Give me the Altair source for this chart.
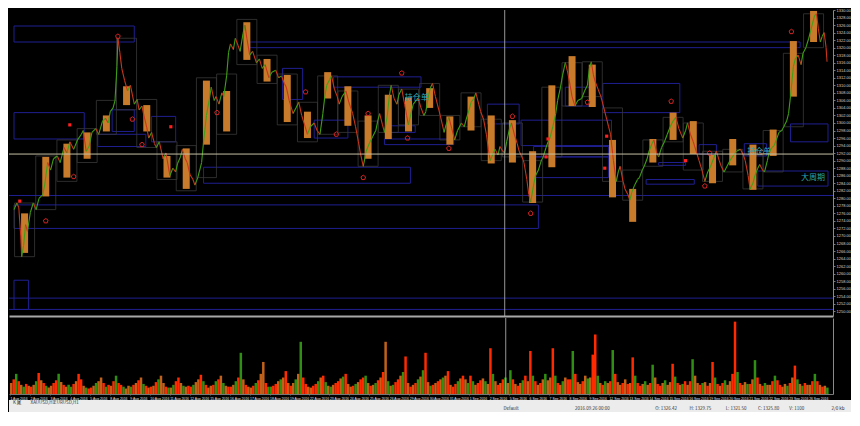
import altair as alt
import pandas as pd
import numpy as np

# ---------------- price path (bar index, price) ----------------
line_bar = [0,3,5,7,8,10,12,14,17,20,
            23,26,30,32,35,38,41,45,48,52,
            55,58,62,66,70,72,75,78,81,85,
            88,92,95,98,100,103,105,107,108,110,
            112,115,118,121,125,128,130,133,135,138,
            140,143,146,148,151,155,158,162,165,168,
            170,173,175,178,180,183,186,188,191,195,
            197,200,203,205,208,210,213,216,218,221,
            223,225,228,230,233,235,238,240,242,245,
            248,252,255,258,261,265,268,272,275,278,
            281,283,286,290,293,296,299,302,305,308,
            312,315,318,321,323,325,328,330,333,336,
            338,341,345,348,352,355,358,360,363,366,
            370,373,376,378,380,383,385,388,390,392,
            395,398,400,403,406,408,410,413,415,418,
            420,423,426,428,431,433,435,438,440,443,
            447,449,452,455,458,461,465,468,470,473,
            475,478,480,483,485,488,491,493,495,498,
            500,503,505,508,510,512,515,517,520,523,
            525,528,530,533,535,537,540,542,545,548,
            550,553,555,557,560,563,565,568,570,573,
            575,578,580,583,586,590,593,596,598,600,
            602,604,607,610,613,616,618,620,623,626,
            628,630,633,635,638,640,642,645,648,650,
            653,655,658,660,663,665,668,670,673,676,
            679,682,685,688,691,695,698,700,703,706,
            709,712,715,718,721,724,727,730,733,735,
            738,740,744,748,751,755,758,760,763,765,
            768,770,773,775,778,780,783,785,788,790,
            793,795,798,800,803,805,807,810,812,815,
            818,820,823,826,828,830,832,834,836,838,
            840,842,844,845]
line_price = [1277.00,1278.75,1277.50,1270.00,1264.50,1267.50,1273.00,1271.25,1276.25,1278.75,
              1277.00,1280.00,1281.00,1283.75,1289.50,1287.50,1290.50,1291.25,1289.50,1293.50,
              1292.00,1295.00,1293.00,1295.50,1297.00,1298.00,1292.50,1293.75,1297.50,1298.50,
              1297.00,1300.50,1301.25,1300.00,1303.00,1304.00,1306.00,1315.00,1322.50,1318.75,
              1314.50,1311.25,1308.50,1310.00,1305.00,1306.25,1303.50,1304.50,1302.00,1298.75,
              1296.00,1297.50,1294.50,1293.50,1295.00,1290.50,1292.00,1286.00,1288.00,1287.00,
              1289.25,1291.00,1293.00,1290.50,1289.50,1286.25,1285.00,1283.50,1285.50,1289.50,
              1295.00,1302.00,1306.25,1309.50,1306.00,1307.00,1305.00,1308.00,1307.00,1312.50,
              1318.75,1321.00,1319.50,1322.50,1320.50,1319.00,1323.75,1326.00,1322.50,1318.00,
              1319.00,1316.00,1317.00,1314.50,1315.50,1312.00,1313.50,1314.00,1312.00,1312.50,
              1310.50,1309.50,1306.00,1302.50,1304.00,1305.50,1302.00,1299.50,1297.00,1299.00,
              1300.00,1298.00,1297.00,1302.50,1307.00,1310.00,1311.50,1312.50,1309.00,1307.00,
              1305.00,1307.00,1308.50,1305.50,1302.50,1299.00,1295.00,1292.00,1288.50,1292.50,
              1295.00,1296.50,1298.00,1300.50,1302.50,1299.50,1297.50,1302.00,1307.00,1310.00,
              1306.50,1305.00,1307.50,1309.00,1305.00,1302.00,1299.50,1303.00,1305.00,1306.00,
              1306.50,1304.00,1302.00,1303.00,1307.50,1309.50,1310.50,1307.00,1305.00,1302.00,
              1297.50,1299.50,1301.50,1298.50,1295.50,1298.00,1300.00,1299.00,1301.00,1303.50,
              1305.50,1306.50,1308.00,1305.00,1303.00,1301.00,1297.00,1293.00,1290.00,1292.00,
              1293.00,1291.50,1293.75,1292.50,1292.00,1295.00,1298.50,1300.00,1297.00,1294.50,
              1292.50,1291.00,1289.50,1285.00,1281.00,1279.00,1283.50,1286.00,1287.50,1290.00,
              1291.00,1293.50,1295.00,1296.00,1299.00,1302.50,1306.00,1309.50,1312.50,1316.00,
              1314.00,1310.00,1307.00,1304.50,1306.00,1306.50,1308.50,1310.00,1314.50,1316.25,
              1313.00,1311.00,1309.00,1307.00,1304.00,1301.00,1299.00,1297.00,1290.00,1284.50,
              1287.00,1288.50,1284.50,1282.50,1281.00,1279.50,1281.50,1283.50,1285.00,1285.50,
              1287.50,1288.50,1290.50,1292.50,1294.50,1295.50,1292.00,1291.00,1293.50,1295.00,
              1297.00,1299.00,1300.50,1301.50,1298.50,1296.00,1298.00,1300.00,1297.00,1295.00,
              1292.50,1290.00,1287.50,1284.50,1287.00,1288.50,1290.50,1292.50,1290.00,1288.50,
              1287.00,1288.00,1290.00,1291.50,1292.50,1293.00,1291.50,1290.00,1286.00,1282.50,
              1284.00,1286.00,1288.00,1289.00,1287.50,1287.00,1290.00,1292.50,1293.50,1294.00,
              1296.00,1297.50,1298.00,1299.00,1300.50,1302.50,1307.00,1315.00,1317.00,1318.00,
              1315.50,1318.50,1320.00,1322.50,1324.50,1326.50,1328.50,1329.00,1325.00,1321.50,
              1323.00,1324.00,1320.00,1316.25]

# ---------------- daily candles ----------------
day_center = [11,33,55,76,96,117,138,159,179,200,221,242,263,284,305,326,347,368,389,410,
              432,453,475,496,518,539,559,580,601,622,643,664,685,706,726,747,768,789,810,831]
body_top = [1276.00,1291.00,1294.50,1297.50,1302.00,1309.75,1304.75,1291.25,1293.25,1311.25,
            1308.50,1326.75,1317.00,1312.75,1303.00,1313.50,1309.75,1302.00,1307.50,1306.75,
            1309.25,1301.75,1307.00,1302.00,1300.75,1292.50,1310.00,1317.75,1315.50,1295.50,
            1282.50,1295.75,1302.75,1300.50,1291.50,1295.75,1294.25,1298.25,1321.75,1329.75]
body_bottom = [1265.50,1280.50,1285.50,1290.50,1297.75,1304.75,1297.75,1285.50,1282.50,1294.25,
               1297.75,1316.75,1311.00,1300.25,1296.00,1306.50,1299.25,1290.50,1295.75,1297.75,
               1304.00,1294.25,1298.00,1289.25,1289.50,1278.75,1288.25,1304.50,1304.25,1280.25,
               1273.75,1289.50,1295.50,1291.75,1284.00,1288.75,1282.25,1291.25,1307.00,1321.50]
range_high = [1278.75,1291.25,1295.50,1298.50,1306.00,1322.50,1306.25,1295.00,1294.00,1312.00,
              1313.00,1327.50,1318.00,1313.00,1305.50,1312.50,1308.50,1300.50,1310.00,1309.00,
              1310.50,1302.00,1308.00,1301.00,1300.00,1290.00,1309.50,1316.00,1316.25,1304.00,
              1287.50,1295.50,1301.50,1300.00,1292.50,1293.00,1291.50,1298.00,1318.50,1329.00]
range_low = [1264.50,1277.00,1284.50,1289.50,1297.00,1303.50,1293.50,1285.00,1282.00,1285.50,
             1297.00,1315.50,1310.50,1299.50,1295.00,1297.00,1297.50,1288.50,1297.50,1299.50,
             1302.00,1295.50,1299.00,1290.00,1291.00,1279.00,1291.00,1304.50,1307.00,1284.50,
             1279.50,1288.50,1295.00,1287.50,1284.50,1287.00,1282.50,1287.00,1299.00,1320.00]

# ---------------- blue zones ----------------
zone_x1 = [0,245,0,102,87,143,279,332,312,387,385,492,573,527,612,807,712,759,197,0,0,540,540,773,657,670]
zone_x2 = [125,817,73,125,137,168,300,423,347,417,457,525,600,621,692,846,730,782,412,545,15,618,618,846,707,698]
zone_top = [1325.75,1321.50,1302.75,1303.50,1297.00,1301.75,1314.50,1312.25,1300.75,1299.25,1295.75,
            1305.00,1309.50,1300.75,1310.50,1299.75,1294.25,1294.50,1288.25,1278.25,1258.25,
            1293.75,1291.00,1287.25,1285.00,1289.50]
zone_bottom = [1321.50,1320.00,1295.75,1297.75,1293.75,1295.00,1306.25,1309.50,1296.00,1297.50,1294.25,
               1299.75,1304.50,1294.00,1302.75,1295.00,1291.75,1291.25,1284.00,1272.00,1250.50,
               1291.00,1285.50,1283.25,1283.75,1288.75]
level_price = [1280.75, 1253.50, 1250.50]

# ---------------- markers & labels ----------------
square_bar = [6,58,163,555,553,616,614,698]
square_price = [1279.25,1299.50,1299.00,1295.75,1291.00,1296.50,1288.00,1290.00]
icon_bar = [108,123,133,62,33,211,303,335,368,403,409,452,363,518,537,596,683,808,718,723,777]
icon_price = [1323.00,1301.00,1294.25,1285.75,1274.00,1302.75,1308.25,1297.00,1302.50,1313.25,
              1296.00,1293.25,1285.50,1301.75,1276.00,1305.50,1305.75,1324.25,1283.25,1292.00,1292.25]
label_text = ["持仓单", "持仓单", "大周期"]
label_bar = [406, 762, 818]
label_price = [1306.75, 1292.25, 1285.50]

cross_bar = [510]
cross_price = [1291.75]

price_ticks = [1250,1252,1254,1256,1258,1260,1262,1264,1266,1268,1270,1272,1274,1276,1278,1280,
               1282,1284,1286,1288,1290,1292,1294,1296,1298,1300,1302,1304,1306,1308,1310,1312,
               1314,1316,1318,1320,1322,1324,1326,1328,1330]

# ---------------- volume ----------------
day_start = [1,21.5,42,62.5,83,103.5,124,144.5,165,185.5,206,226.5,247,267.5,288,308.5,329,349.5,
             370,390.5,411,431.5,452,472.5,493,513.5,534,554.5,575,595.5,616,636.5,657,677.5,698,
             718.5,739,759.5,780,800.5,821]
slot_len = 2.5625
vol_days = [
    [12,16,22,14,10,8,11,9],[8,10,14,23,15,12,9,7],[9,12,15,22,13,10,8,10],[8,11,14,22,16,9,7,6],
    [7,9,12,14,18,12,8,10],[9,14,20,12,10,8,6,9],[8,10,12,15,18,11,9,7],[8,9,13,16,20,12,8,7],
    [7,10,14,18,12,9,8,9],[8,10,13,16,21,14,10,7],[9,10,14,16,20,12,9,8],[8,10,14,18,45,16,10,8],
    [7,9,12,15,22,35,12,8],[8,9,11,14,16,18,25,12],[9,12,16,22,57,18,11,8],[7,9,11,14,18,20,13,9],
    [8,10,12,14,17,19,22,11],[8,9,11,13,16,18,20,12],[9,10,12,15,18,24,57,14],[9,10,13,16,20,24,41,12],
    [8,10,12,16,19,26,45,13],[9,10,12,14,16,18,20,25],[10,8,11,14,17,20,16,12],[20,14,10,12,15,17,14,11],
    [50,22,14,10,12,16,18,12],[26,16,11,9,12,15,20,14],[47,20,14,10,12,16,22,15],[18,50,20,12,10,14,18,16],
    [16,47,22,13,11,14,20,17],[18,43,65,20,12,10,14,12],[14,48,22,13,10,12,16,11],[12,40,20,12,9,11,14,10],
    [12,32,18,11,9,12,15,10],[13,33,19,12,10,11,14,10],[14,38,20,12,10,12,13,9],[12,35,18,11,9,12,15,10],
    [14,22,79,24,12,10,13,11],[11,16,37,18,11,9,12,10],[10,14,20,15,10,8,11,9],[12,18,31,16,11,9,12,10],
    [10,14,22,14,10,8,9,7]]
vol_colors = ["orgrogro","rogrorgo","orrgorog","grorrogr","rogoorgr","orgrrgoo","grorogro","rorgoorg",
              "ogrrogor","rgoorgro","orgrogor","rogrgoro","orgroorg","grrogoro","rogogrro","orrgorgo",
              "gorrogro","orgorrgo","rogrorog","ogrrogro","rorgogro","grorogor","orrgorog","rgorrogo",
              "rgororgo","grorogro","rgrorogo","orgrogor","rgroorog","orrgorgo","rgrooror","orgrrogo",
              "rgorrogo","orgrogro","rgoorgor","orgrorgo","orrgroog","rogrorgo","orgrroog","rorgogro",
              "orgrorog"]
day_labels = ["1 Aug 2016","2 Aug 2016","3 Aug 2016","4 Aug 2016","5 Aug 2016","8 Aug 2016",
              "9 Aug 2016","10 Aug 2016","11 Aug 2016","12 Aug 2016","15 Aug 2016","16 Aug 2016",
              "17 Aug 2016","18 Aug 2016","19 Aug 2016","22 Aug 2016","23 Aug 2016","24 Aug 2016",
              "25 Aug 2016","26 Aug 2016","29 Aug 2016","30 Aug 2016","31 Aug 2016","1 Sep 2016",
              "2 Sep 2016","5 Sep 2016","6 Sep 2016","7 Sep 2016","8 Sep 2016","9 Sep 2016",
              "12 Sep 2016","13 Sep 2016","14 Sep 2016","15 Sep 2016","16 Sep 2016","19 Sep 2016",
              "20 Sep 2016","21 Sep 2016","22 Sep 2016","23 Sep 2016","26 Sep 2016"]

# ---------------- status bar ----------------
status_pos = [4, 22, 46, 505, 578, 660, 695, 732, 765, 797, 840]
status_row = ["tab", "tab", "tab", "info", "info", "info", "info", "info", "info", "info", "info"]
status_text = ["K 尾", "XAUUSD,H1", "EURUSD,H1", "Default", "2016.09.26 00:00", "O: 1326.42",
               "H: 1329.75", "L: 1321.50", "C: 1325.80", "V: 1100", "2/0 kb"]

# =====================================================================
W = 824
H_PRICE = 306
H_VOL = 76

xs = alt.Scale(domain=[0, 846], nice=False, zero=False)
ys = alt.Scale(domain=[1248.75, 1330], nice=False, zero=False)
ax_x = alt.Axis(labels=False, ticks=False, grid=False, title=None,
                domainColor="#a8a8a8", domainWidth=2)
ax_y = alt.Axis(orient="right", values=price_ticks, format=".2f", labelFontSize=4,
                labelColor="#d4d4d4", labelFont="Liberation Sans", tickSize=2, tickColor="#777777",
                domainColor="#8a8a8a", labelPadding=1, labelOverlap=False, grid=False, title=None)


def X(f):
    return alt.X(f, type="quantitative", scale=xs, axis=ax_x)


def Y(f):
    return alt.Y(f, type="quantitative", scale=ys, axis=ax_y)


seg = pd.DataFrame({"x": line_bar[:-1], "x2": line_bar[1:],
                    "y": line_price[:-1], "y2": line_price[1:]})
seg["dir"] = np.where(seg["y2"] >= seg["y"], "up", "down")

days_df = pd.DataFrame({"c": day_center, "top": body_top, "bottom": body_bottom,
                        "hi": range_high, "lo": range_low})
zones_df = pd.DataFrame({"x1": zone_x1, "x2": zone_x2, "top": zone_top, "bottom": zone_bottom})

zones = alt.Chart(zones_df).mark_rect(fillOpacity=0, stroke="#1f1f92", strokeWidth=1).encode(
    x=X("x1"), x2="x2:Q", y=Y("top"), y2="bottom:Q")
levels = alt.Chart(pd.DataFrame({"p": level_price})).mark_rule(color="#1f1f92", strokeWidth=1).encode(
    y=Y("p"))
boxes = alt.Chart(days_df).mark_bar(size=20, fillOpacity=0, stroke="#383838", strokeWidth=0.8).encode(
    x=X("c"), y=Y("hi"), y2="lo:Q")
bodies = alt.Chart(days_df).mark_bar(size=7, color="#c97b2c").encode(
    x=X("c"), y=Y("top"), y2="bottom:Q")
line = alt.Chart(seg).mark_rule(strokeWidth=1.1).encode(
    x=X("x"), x2="x2:Q", y=Y("y"), y2="y2:Q",
    color=alt.Color("dir:N", scale=alt.Scale(domain=["up", "down"], range=["#3f9e16", "#c8361a"]),
                    legend=None))
squares = alt.Chart(pd.DataFrame({"b": square_bar, "p": square_price})).mark_square(
    size=10, color="#ff2020", opacity=1).encode(x=X("b"), y=Y("p"))
pent = "M0,-1 L0.95,-0.31 L0.59,0.81 L-0.59,0.81 L-0.95,-0.31 Z"
icons = alt.Chart(pd.DataFrame({"b": icon_bar, "p": icon_price})).mark_point(
    shape=pent, size=24, filled=False, color="#d42424", strokeWidth=1, opacity=1).encode(
    x=X("b"), y=Y("p"))
labels = alt.Chart(pd.DataFrame({"b": label_bar, "p": label_price, "t": label_text})).mark_text(
    font="Noto Sans CJK SC", fontSize=8, color="#2aa5b8", align="left", baseline="middle").encode(
    x=X("b"), y=Y("p"), text="t:N")
vline = alt.Chart(pd.DataFrame({"b": cross_bar})).mark_rule(color="#bdbdbd", strokeWidth=0.8).encode(
    x=X("b"))
hline = alt.Chart(pd.DataFrame({"p": cross_price})).mark_rule(color="#c6c0a4", strokeWidth=1).encode(
    y=Y("p"))

price_panel = alt.layer(zones, levels, boxes, bodies, line, squares, icons, labels, vline, hline).properties(
    width=W, height=H_PRICE)

# volume panel: each slot spans its own time interval
rows = []
for k, (vals, cols) in enumerate(zip(vol_days, vol_colors)):
    for j, (v, c) in enumerate(zip(vals, cols)):
        t0 = day_start[k] + j * slot_len
        rows.append({"t0": t0, "t1": t0 + slot_len, "vol": v * 10, "c": c})
vol_df = pd.DataFrame(rows)

labels_js = "[" + ",".join("'" + s + "'" for s in day_labels) + "]"
starts_js = "[" + ",".join(str(s) for s in day_start) + "]"
ax_xv = alt.Axis(values=day_start, labelExpr=labels_js + "[indexof(" + starts_js + ", datum.value)]",
                 labelFontSize=3.4, labelColor="#e6e6e6", labelFont="Liberation Sans", tickSize=1,
                 tickColor="#666666", domainColor="#777777", labelPadding=1, labelOverlap=False,
                 labelAlign="left", grid=False, title=None)
ax_yv = alt.Axis(orient="right", labels=False, ticks=False, domainColor="#8a8a8a", grid=False, title=None)
vs = alt.Scale(domain=[0, 830], nice=False)

vol_bars = alt.Chart(vol_df).mark_rect(strokeWidth=0).encode(
    x=alt.X("t0:Q", scale=xs, axis=ax_xv),
    x2="t1:Q",
    y=alt.Y("vol:Q", scale=vs, axis=ax_yv),
    y2=alt.datum(0),
    color=alt.Color("c:N", scale=alt.Scale(domain=["r", "o", "g"],
                                           range=["#ff2a00", "#c2621a", "#2f8f12"]), legend=None))
vol_vline = alt.Chart(pd.DataFrame({"b": cross_bar})).mark_rule(color="#bdbdbd", strokeWidth=0.8).encode(
    x=alt.X("b:Q", scale=xs, axis=ax_xv))
vol_panel = alt.layer(vol_bars, vol_vline).properties(width=W, height=H_VOL)

# status bar
status_df = pd.DataFrame({"sx": status_pos, "row": status_row, "t": status_text})
status_panel = alt.Chart(status_df).mark_text(
    fontSize=4.5, color="#333333", align="left", baseline="middle", font="Noto Sans CJK SC").encode(
    x=alt.X("sx:Q", scale=alt.Scale(domain=[0, 860], nice=False), axis=None),
    y=alt.Y("row:N", scale=alt.Scale(domain=["tab", "info"]), axis=None),
    text="t:N").properties(width=842, height=12,
                           view=alt.ViewBackground(fill="#ececec", strokeWidth=0))

chart = alt.vconcat(price_panel, vol_panel, status_panel, spacing=0).resolve_scale(
    x="independent", y="independent", color="independent").properties(
    background="#000000", padding=0).configure_view(strokeWidth=0)

chart.save("out.html", embed_options={"renderer": "svg", "actions": False})
